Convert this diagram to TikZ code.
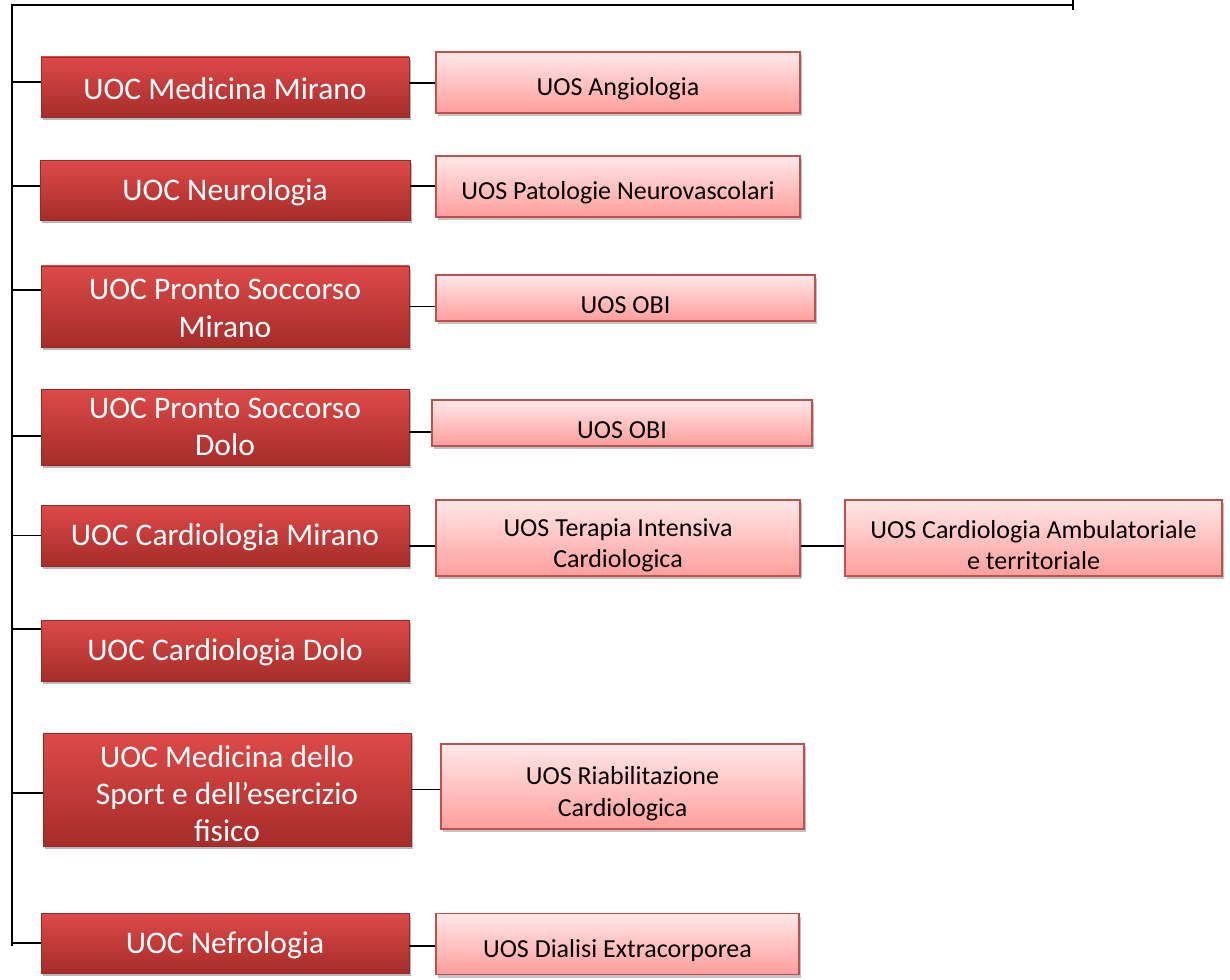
\documentclass[tikz,border=0pt]{standalone}
\usepackage{fontspec}
\setmainfont{Carlito}
\usepackage{tikz}
\usetikzlibrary{shadows}
\definecolor{UocTop}{RGB}{221,74,72}
\definecolor{UocBottom}{RGB}{166,44,42}
\definecolor{UocEdge}{RGB}{150,42,40}
\definecolor{UosTop}{RGB}{255,232,232}
\definecolor{UosBottom}{RGB}{255,158,156}
\definecolor{UosEdge}{RGB}{192,80,77}

\begin{document}
\begin{tikzpicture}[
        x=0.75pt,y=-0.75pt,
        lift/.style={execute at begin node={\rule{0pt}{#1}}},
        uoc/.style={rectangle,inner sep=0pt,minimum width=276pt,minimum height=45pt,align=center,text=white,
          font=\fontsize{23.6}{28}\selectfont,top color=UocTop,bottom color=UocBottom,draw=UocEdge,line width=0.5pt,
          drop shadow={shadow xshift=1.5pt,shadow yshift=-2pt,fill=black!50,opacity=0.55},lift=19.5pt},
        uos/.style={rectangle,inner sep=0pt,minimum width=273pt,minimum height=45.75pt,align=center,text=black,
          font=\fontsize{19.5}{23.8}\selectfont,top color=UosTop,bottom color=UosBottom,draw=UosEdge,line width=1.1pt,
          drop shadow={shadow xshift=1.5pt,shadow yshift=-2.5pt,fill=black!40,opacity=0.6},lift=22.7pt},
        link/.style={draw=black,line width=1.1pt}
      ]
        \useasboundingbox (0,0) rectangle (1230,980);
        % trunk
        \coordinate (root) at (12,5);
        \coordinate (rootend) at (1073,5);
        \coordinate (trunkend) at (12,946);
        % UOC column
        \node[uoc] (med) at (225,87) {UOC Medicina Mirano};
        \node[uoc,minimum width=277.5pt] (neuro) at (225,190.5) {UOC Neurologia};
        \node[uoc,minimum height=60.75pt,lift=46pt] (psm) at (225,306.5) {UOC Pronto Soccorso\\Mirano};
        \node[uoc,minimum height=57pt] (psd) at (225,427) {UOC Pronto Soccorso\\Dolo};
        \node[uoc,minimum height=45.75pt] (cardm) at (225,535.5) {UOC Cardiologia Mirano};
        \node[uoc,minimum height=45.75pt] (cardd) at (225,650.5) {UOC Cardiologia Dolo};
        \node[uoc,minimum height=84.75pt,lift=78.5pt] (sport) at (227,789.5) {UOC Medicina dello\\Sport e dell’esercizio\\fisico};
        \node[uoc] (nefro) at (225,943) {UOC Nefrologia};
        % UOS boxes
        \node[uos] (angio) at (618,82.5) {UOS Angiologia};
        \node[uos] (neurovasc) at (618,186.5) {UOS Patologie Neurovascolari};
        \node[uos,minimum width=284.25pt,minimum height=34.5pt] (obim) at (625.5,298) {UOS OBI};
        \node[uos,minimum width=285pt,minimum height=34.5pt] (obid) at (622,423) {UOS OBI};
        \node[uos,minimum height=57pt,lift=48pt] (uti) at (618,538) {UOS Terapia Intensiva\\Cardiologica};
        \node[uos,minimum width=282.75pt,minimum height=57pt,lift=48pt] (amb) at (1033.5,538) {UOS Cardiologia Ambulatoriale\\e territoriale};
        \node[uos,minimum width=272.25pt,minimum height=63.75pt,lift=48pt] (riab) at (622.5,786.5) {UOS Riabilitazione\\Cardiologica};
        \node[uos,minimum width=272.25pt] (dialisi) at (617.5,944) {UOS Dialisi Extracorporea};
        % connectors
        \draw[link] (rootend) -- (root) -- (trunkend);
        \draw[link] ([yshift=3.75pt]rootend) -- ([yshift=-3.75pt]rootend);
        \foreach \n/\s in {med/3.75,neuro/3.4,psm/12.4,psd/-6.75,cardm/0,cardd/16.1,sport/-2.6,nefro/0}
          \draw[link] ([yshift=\s pt]\n.west) -- ([yshift=\s pt]\n.west -| root);
        \foreach \a/\b/\s in {med/angio/3,neuro/neurovasc/3.4,psm/obim/0,psd/obid/-3.75,cardm/uti/-7.9,sport/riab/0,nefro/dialisi/-2.25}
          \draw[link] ([yshift=\s pt]\a.east) -- ([yshift=\s pt]\a.east -| \b.west);
        \draw[link] ([yshift=-6pt]uti.east) -- ([yshift=-6pt]uti.east -| amb.west);
      \end{tikzpicture}
\end{document}
